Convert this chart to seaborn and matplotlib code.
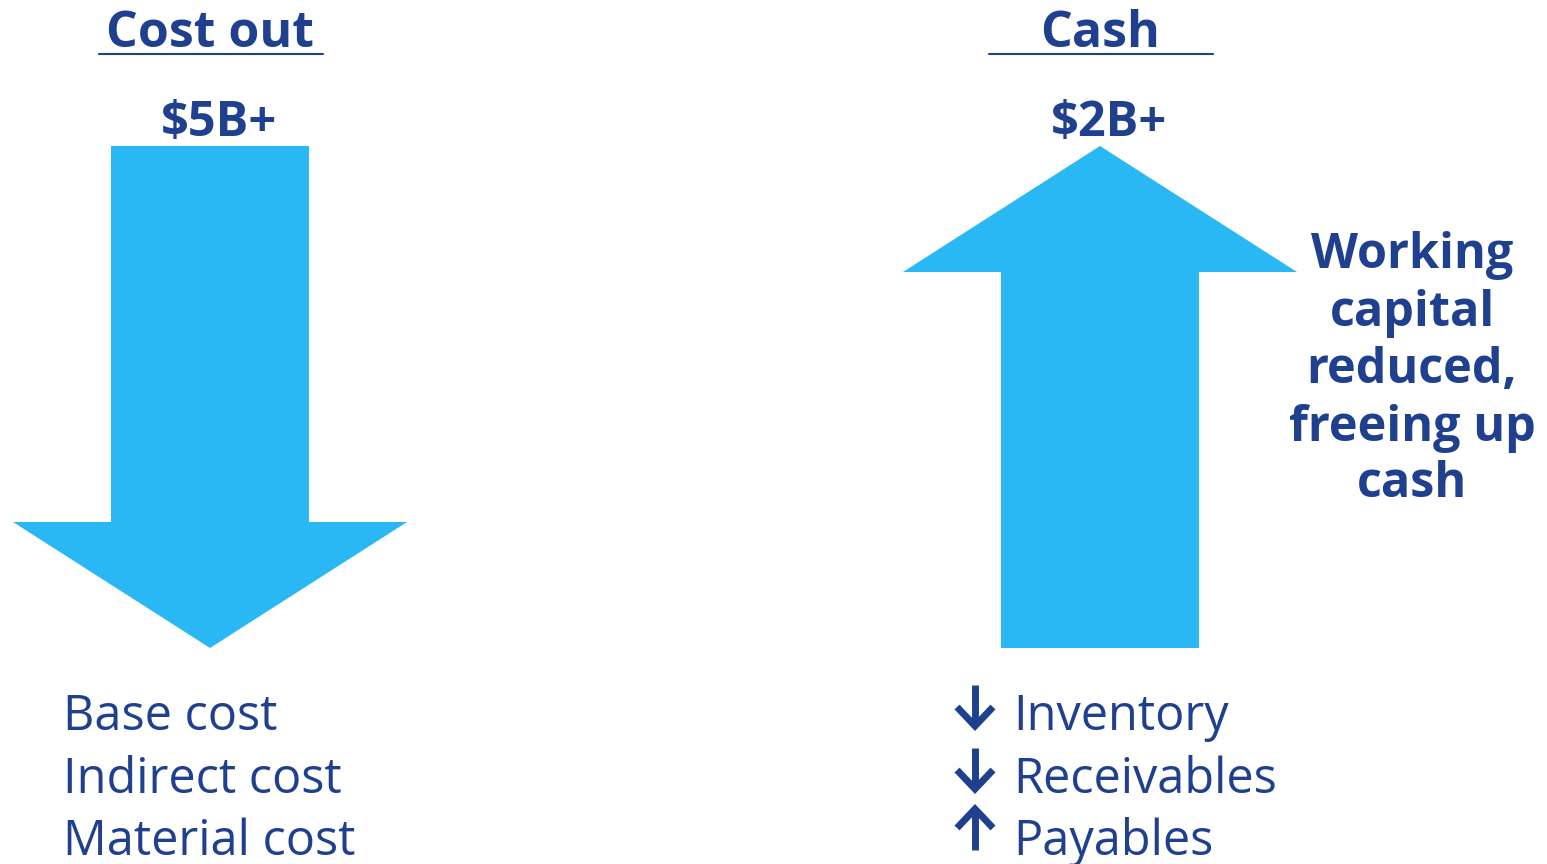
import numpy as np
import pandas as pd
import matplotlib
matplotlib.use("Agg")
import matplotlib.pyplot as plt
import seaborn as sns

# chart content
panel_titles = ["Cost out", "Cash"]
panel_values = ["$5B+", "$2B+"]
panel_directions = ["down", "up"]
cost_items = ["Base cost", "Indirect cost", "Material cost"]
cash_items = ["Inventory", "Receivables", "Payables"]
cash_item_dirs = ["down", "down", "up"]
cash_note = ["Working", "capital", "reduced,", "freeing up", "cash"]

NAVY = "#1f3f8f"
CYAN = "#29b8f3"

sns.set_theme(style="white")
plt.rcParams['font.family'] = ['Open Sans', 'DejaVu Sans']

W, H = 1547, 864
fig = plt.figure(figsize=(W / 100, H / 100), dpi=100)
ax = fig.add_axes([0, 0, 1, 1])
ax.set_xlim(0, W)
ax.set_ylim(H, 0)
ax.axis("off")

# arrow layout (pixels): center x, shaft half width, head half width, top, bottom
centers = [210, 1100]
shaft_hw = 99
head_hw = 197
top_y, bottom_y = 146, 648
head_len = 126


def arrow_poly(cx, direction):
    if direction == "down":
        base = bottom_y - head_len
        ys = [top_y, top_y, base, base, bottom_y, base, base]
    else:
        base = top_y + head_len
        ys = [bottom_y, bottom_y, base, base, top_y, base, base]
    xs = [cx - shaft_hw, cx + shaft_hw, cx + shaft_hw, cx + head_hw, cx,
          cx - head_hw, cx - shaft_hw]
    return xs, ys


for cx, d, title, val in zip(centers, panel_directions, panel_titles, panel_values):
    xs, ys = arrow_poly(cx, d)
    ax.fill(xs, ys, color=CYAN, lw=0)
    ax.text(cx, 47, title, ha="center", va="baseline", fontsize=36,
            fontweight="bold", color=NAVY)
    ax.plot([cx - 111, cx + 113], [54, 54], color=NAVY, lw=1.5)
    ax.text(cx + 9, 136, val, ha="center", va="baseline", fontsize=35,
            fontweight="bold", color=NAVY)

# lists under arrows
line_y = [730, 793, 855]
for y, item in zip(line_y, cost_items):
    ax.text(63, y, item, ha="left", va="baseline", fontsize=35, color=NAVY)


def small_arrow(x, y, d):
    # y is text baseline; glyph spans roughly 45 px above it
    top, bot = y - 47, y - 3
    ax.plot([x, x], [top + 2, bot - 2], color=NAVY, lw=5, solid_capstyle="butt")
    if d == "down":
        ax.plot([x - 18, x, x + 18], [bot - 20, bot - 1, bot - 20], color=NAVY,
                lw=5, solid_joinstyle="miter", solid_capstyle="butt")
    else:
        ax.plot([x - 18, x, x + 18], [top + 20, top + 1, top + 20], color=NAVY,
                lw=5, solid_joinstyle="miter", solid_capstyle="butt")


for y, item, d in zip(line_y, cash_items, cash_item_dirs):
    small_arrow(975, y, d)
    ax.text(1013, y, item, ha="left", va="baseline", fontsize=35, color=NAVY)

# note next to cash arrow
note_y = [268, 326, 383, 441, 497]
for y, line in zip(note_y, cash_note):
    ax.text(1412, y, line, ha="center", va="baseline", fontsize=35,
            fontweight="bold", color=NAVY)

fig.savefig("out.png", dpi=100, facecolor="white")
